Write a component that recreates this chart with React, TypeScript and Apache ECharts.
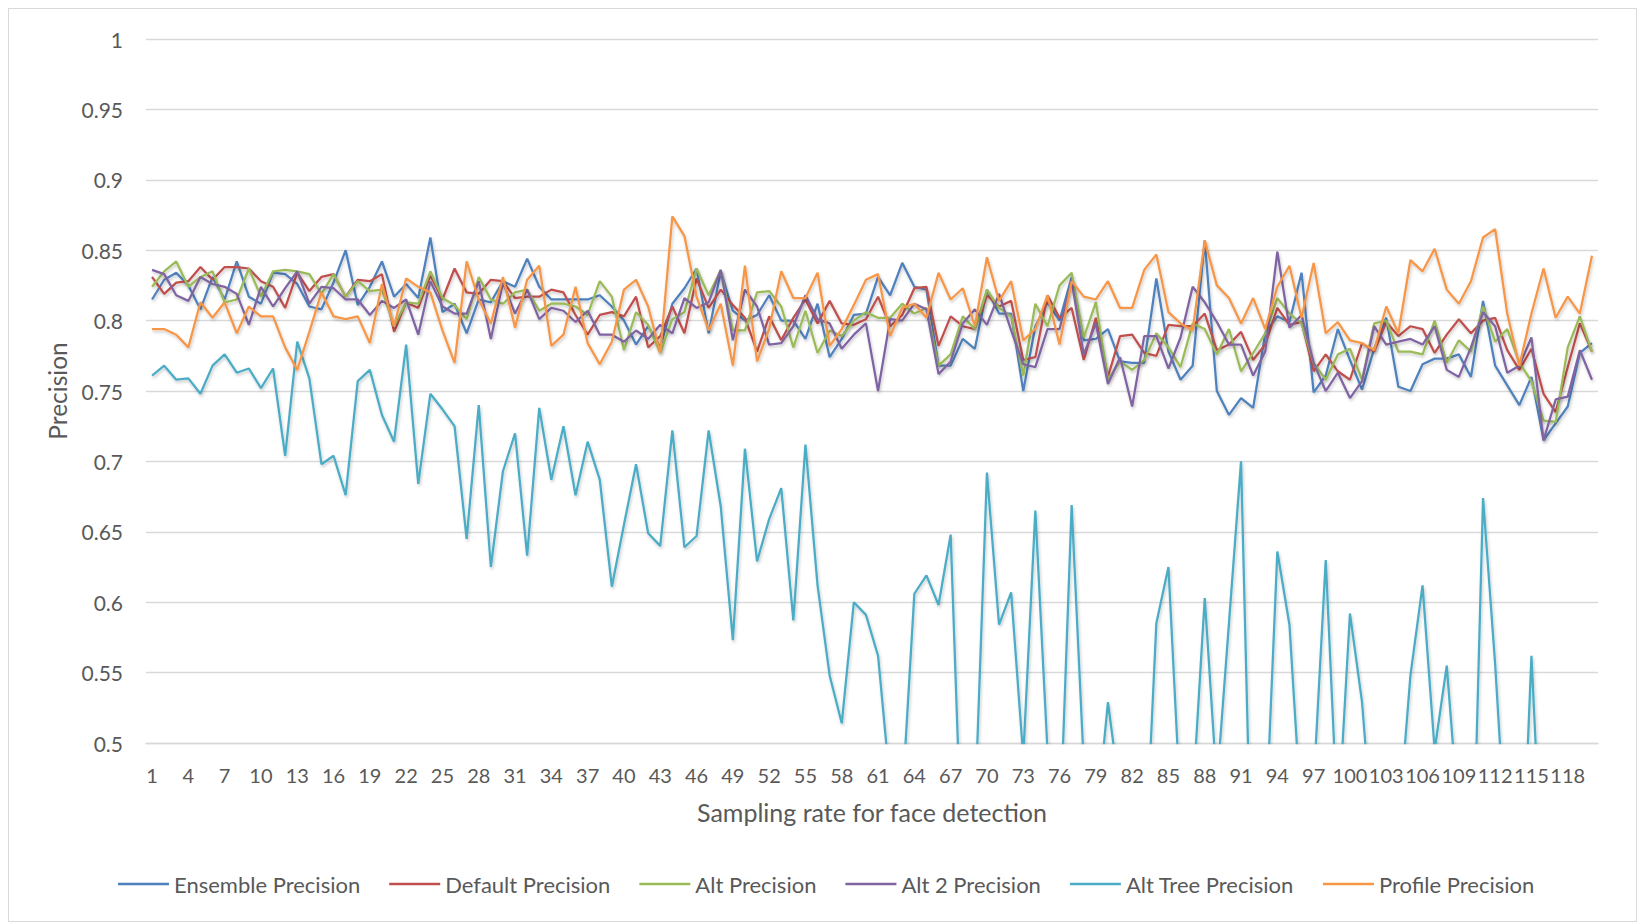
import React, { useEffect, useRef } from "react";
import * as echarts from "echarts";

const categories = [
  "1","2","3","4","5","6","7","8","9","10","11","12","13","14","15","16","17","18","19","20",
  "21","22","23","24","25","26","27","28","29","30","31","32","33","34","35","36","37","38","39","40",
  "41","42","43","44","45","46","47","48","49","50","51","52","53","54","55","56","57","58","59","60",
  "61","62","63","64","65","66","67","68","69","70","71","72","73","74","75","76","77","78","79","80",
  "81","82","83","84","85","86","87","88","89","90","91","92","93","94","95","96","97","98","99","100",
  "101","102","103","104","105","106","107","108","109","110","111","112","113","114","115","116","117","118","119","120",
];

const ensemblePrecision = [
  0.815, 0.829, 0.834, 0.825, 0.808, 0.831, 0.815, 0.842, 0.817, 0.812,
  0.834, 0.833, 0.826, 0.810, 0.808, 0.827, 0.850, 0.811, 0.824, 0.842,
  0.817, 0.826, 0.816, 0.859, 0.806, 0.812, 0.791, 0.815, 0.813, 0.828,
  0.824, 0.844, 0.824, 0.815, 0.815, 0.815, 0.815, 0.818, 0.810, 0.800,
  0.783, 0.796, 0.781, 0.812, 0.823, 0.837, 0.791, 0.835, 0.807, 0.800,
  0.804, 0.818, 0.800, 0.800, 0.787, 0.812, 0.774, 0.787, 0.804, 0.805,
  0.831, 0.818, 0.841, 0.824, 0.822, 0.768, 0.768, 0.787, 0.780, 0.822,
  0.805, 0.805, 0.750, 0.796, 0.813, 0.800, 0.831, 0.786, 0.787, 0.794,
  0.771, 0.770, 0.770, 0.830, 0.778, 0.758, 0.768, 0.857, 0.750, 0.733,
  0.745, 0.738, 0.791, 0.803, 0.799, 0.834, 0.749, 0.761, 0.794, 0.772,
  0.751, 0.780, 0.802, 0.753, 0.750, 0.769, 0.773, 0.773, 0.776, 0.760,
  0.814, 0.768, 0.754, 0.740, 0.760, 0.715, 0.727, 0.739, 0.777, 0.784,
];

const defaultPrecision = [
  0.831, 0.819, 0.827, 0.828, 0.838, 0.829, 0.838, 0.838, 0.837, 0.828,
  0.824, 0.809, 0.834, 0.821, 0.831, 0.833, 0.817, 0.829, 0.828, 0.833,
  0.792, 0.813, 0.809, 0.832, 0.815, 0.837, 0.820, 0.819, 0.829, 0.828,
  0.816, 0.817, 0.817, 0.822, 0.820, 0.804, 0.790, 0.804, 0.806, 0.803,
  0.817, 0.781, 0.789, 0.810, 0.791, 0.830, 0.809, 0.822, 0.811, 0.802,
  0.778, 0.803, 0.786, 0.802, 0.815, 0.798, 0.814, 0.798, 0.797, 0.801,
  0.817, 0.796, 0.804, 0.823, 0.824, 0.782, 0.803, 0.796, 0.794, 0.818,
  0.810, 0.814, 0.772, 0.774, 0.818, 0.802, 0.809, 0.772, 0.802, 0.760,
  0.789, 0.790, 0.777, 0.775, 0.797, 0.796, 0.796, 0.805, 0.779, 0.783,
  0.792, 0.772, 0.783, 0.809, 0.797, 0.799, 0.764, 0.776, 0.764, 0.758,
  0.784, 0.778, 0.799, 0.789, 0.796, 0.794, 0.777, 0.790, 0.801, 0.791,
  0.800, 0.802, 0.779, 0.765, 0.780, 0.748, 0.735, 0.767, 0.798, 0.778,
];

const altPrecision = [
  0.824, 0.835, 0.842, 0.824, 0.831, 0.835, 0.813, 0.815, 0.837, 0.817,
  0.835, 0.836, 0.835, 0.833, 0.819, 0.833, 0.817, 0.828, 0.821, 0.822,
  0.796, 0.813, 0.812, 0.835, 0.816, 0.811, 0.801, 0.831, 0.815, 0.812,
  0.820, 0.822, 0.807, 0.812, 0.812, 0.810, 0.804, 0.828, 0.817, 0.779,
  0.806, 0.797, 0.777, 0.801, 0.806, 0.837, 0.818, 0.836, 0.793, 0.793,
  0.820, 0.821, 0.810, 0.781, 0.807, 0.777, 0.793, 0.789, 0.800, 0.806,
  0.802, 0.802, 0.812, 0.805, 0.809, 0.768, 0.776, 0.803, 0.794, 0.822,
  0.809, 0.803, 0.761, 0.812, 0.796, 0.825, 0.834, 0.788, 0.813, 0.758,
  0.771, 0.765, 0.772, 0.791, 0.781, 0.767, 0.798, 0.794, 0.776, 0.794,
  0.764, 0.777, 0.791, 0.816, 0.805, 0.798, 0.770, 0.758, 0.776, 0.780,
  0.758, 0.798, 0.800, 0.778, 0.778, 0.776, 0.800, 0.770, 0.786, 0.778,
  0.810, 0.785, 0.794, 0.770, 0.757, 0.729, 0.728, 0.781, 0.803, 0.778,
];

const alt2Precision = [
  0.836, 0.833, 0.818, 0.814, 0.831, 0.826, 0.824, 0.819, 0.797, 0.824,
  0.810, 0.823, 0.835, 0.812, 0.824, 0.823, 0.815, 0.815, 0.804, 0.814,
  0.809, 0.815, 0.790, 0.828, 0.810, 0.805, 0.805, 0.828, 0.787, 0.827,
  0.805, 0.822, 0.801, 0.809, 0.807, 0.799, 0.807, 0.790, 0.790, 0.785,
  0.793, 0.787, 0.797, 0.791, 0.816, 0.809, 0.813, 0.836, 0.786, 0.822,
  0.810, 0.783, 0.784, 0.796, 0.818, 0.801, 0.798, 0.780, 0.790, 0.798,
  0.750, 0.801, 0.800, 0.812, 0.808, 0.762, 0.771, 0.798, 0.808, 0.797,
  0.819, 0.793, 0.769, 0.767, 0.794, 0.794, 0.828, 0.776, 0.798, 0.755,
  0.774, 0.739, 0.789, 0.789, 0.766, 0.788, 0.824, 0.813, 0.799, 0.783,
  0.783, 0.761, 0.778, 0.849, 0.795, 0.804, 0.770, 0.750, 0.763, 0.745,
  0.757, 0.796, 0.783, 0.785, 0.787, 0.783, 0.796, 0.765, 0.760, 0.781,
  0.806, 0.796, 0.763, 0.768, 0.788, 0.715, 0.744, 0.746, 0.779, 0.758,
];

const altTreePrecision = [
  0.761, 0.768, 0.758, 0.759, 0.748, 0.768, 0.776, 0.763, 0.766, 0.752,
  0.766, 0.704, 0.785, 0.759, 0.698, 0.704, 0.676, 0.757, 0.765, 0.733,
  0.714, 0.783, 0.684, 0.748, 0.737, 0.725, 0.645, 0.740, 0.625, 0.693,
  0.720, 0.633, 0.738, 0.687, 0.725, 0.676, 0.714, 0.687, 0.611, 0.655,
  0.698, 0.649, 0.640, 0.722, 0.639, 0.647, 0.722, 0.668, 0.573, 0.709,
  0.629, 0.659, 0.681, 0.587, 0.712, 0.612, 0.548, 0.514, 0.600, 0.591,
  0.562, 0.470, 0.460, 0.606, 0.619, 0.598, 0.648, 0.400, 0.450, 0.692,
  0.584, 0.607, 0.490, 0.665, 0.495, 0.430, 0.669, 0.485, 0.440, 0.529,
  0.463, 0.450, 0.400, 0.585, 0.625, 0.454, 0.460, 0.603, 0.470, 0.585,
  0.700, 0.350, 0.432, 0.636, 0.584, 0.445, 0.470, 0.630, 0.440, 0.592,
  0.529, 0.420, 0.450, 0.440, 0.548, 0.612, 0.495, 0.555, 0.445, 0.350,
  0.674, 0.556, 0.414, 0.350, 0.562, 0.380, 0.450, 0.450, 0.450, 0.450,
];

const profilePrecision = [
  0.794, 0.794, 0.790, 0.781, 0.813, 0.802, 0.813, 0.791, 0.810, 0.803,
  0.803, 0.781, 0.765, 0.792, 0.820, 0.803, 0.801, 0.803, 0.784, 0.826,
  0.796, 0.830, 0.824, 0.820, 0.793, 0.770, 0.842, 0.815, 0.798, 0.831,
  0.795, 0.829, 0.839, 0.782, 0.790, 0.824, 0.784, 0.769, 0.785, 0.822,
  0.829, 0.810, 0.777, 0.874, 0.860, 0.817, 0.793, 0.812, 0.768, 0.839,
  0.771, 0.794, 0.835, 0.816, 0.816, 0.834, 0.782, 0.794, 0.811, 0.829,
  0.833, 0.789, 0.809, 0.812, 0.802, 0.834, 0.815, 0.823, 0.796, 0.845,
  0.814, 0.828, 0.786, 0.794, 0.818, 0.783, 0.828, 0.817, 0.815, 0.828,
  0.809, 0.809, 0.836, 0.847, 0.806, 0.798, 0.793, 0.857, 0.825, 0.816,
  0.798, 0.816, 0.794, 0.824, 0.839, 0.802, 0.841, 0.791, 0.799, 0.786,
  0.784, 0.779, 0.810, 0.791, 0.843, 0.835, 0.851, 0.822, 0.812, 0.828,
  0.859, 0.865, 0.805, 0.768, 0.805, 0.837, 0.802, 0.817, 0.805, 0.846,
];

const seriesNames = [
  "Ensemble Precision",
  "Default Precision",
  "Alt Precision",
  "Alt 2 Precision",
  "Alt Tree Precision",
  "Profile Precision",
];
const seriesColors = ["#4F81BD", "#C0504D", "#9BBB59", "#8064A2", "#4BACC6", "#F79646"];
const seriesData = [
  ensemblePrecision,
  defaultPrecision,
  altPrecision,
  alt2Precision,
  altTreePrecision,
  profilePrecision,
];

const FONT = "Lato, 'Open Sans', sans-serif";
const TEXT_COLOR = "#595959";

export default function App() {
  const ref = useRef<HTMLDivElement>(null);

  useEffect(() => {
    if (!ref.current) return;
    const chart = echarts.init(ref.current, null, { renderer: "svg" });
    chart.setOption({
      animation: false,
      backgroundColor: "#ffffff",
      textStyle: { fontFamily: FONT },
      grid: { left: 137, top: 30, right: 38, bottom: 178 },
      legend: {
        data: seriesNames,
        left: 104,
        top: 859,
        itemWidth: 51,
        itemHeight: 2.5,
        itemGap: 29,
        icon: "rect",
        textStyle: { fontFamily: FONT, fontSize: 22, color: TEXT_COLOR },
      },
      xAxis: {
        type: "category",
        data: categories,
        boundaryGap: true,
        name: "Sampling rate for face detection",
        nameLocation: "middle",
        nameGap: 56,
        nameTextStyle: { fontFamily: FONT, fontSize: 25, color: TEXT_COLOR },
        axisLine: { lineStyle: { color: "#d9d9d9", width: 1.3 } },
        axisTick: { show: false },
        axisLabel: {
          interval: 2,
          margin: 22,
          fontFamily: FONT,
          fontSize: 20,
          color: TEXT_COLOR,
        },
        splitLine: { show: false },
      },
      yAxis: {
        type: "value",
        min: 0.5,
        max: 1,
        interval: 0.05,
        name: "Precision",
        nameLocation: "middle",
        nameGap: 76,
        nameRotate: 90,
        nameTextStyle: { fontFamily: FONT, fontSize: 24.5, color: TEXT_COLOR },
        axisLine: { show: false },
        axisTick: { show: false },
        axisLabel: {
          margin: 23,
          fontFamily: FONT,
          fontSize: 21,
          color: TEXT_COLOR,
          formatter: (v: number) => String(Math.round(v * 100) / 100),
        },
        splitLine: { lineStyle: { color: "#d9d9d9", width: 1.3 } },
      },
      series: seriesNames.map((name, i) => ({
        name,
        type: "line",
        data: seriesData[i],
        symbol: "none",
        showSymbol: false,
        clip: true,
        color: seriesColors[i],
        lineStyle: {
          width: 2.25,
          color: seriesColors[i],
          shadowColor: "rgba(0,0,0,0.22)",
          shadowBlur: 3,
          shadowOffsetX: 1,
          shadowOffsetY: 2,
        },
        emphasis: { disabled: true },
      })),
    });
    return () => {
      chart.dispose();
    };
  }, []);

  return (
    <div
      style={{
        position: "fixed",
        left: 8,
        top: 8,
        width: 1629,
        height: 914,
        boxSizing: "border-box",
        border: "1px solid #d9d9d9",
        background: "#fff",
      }}
    >
      <div ref={ref} style={{ width: 1627, height: 912 }} />
    </div>
  );
}
